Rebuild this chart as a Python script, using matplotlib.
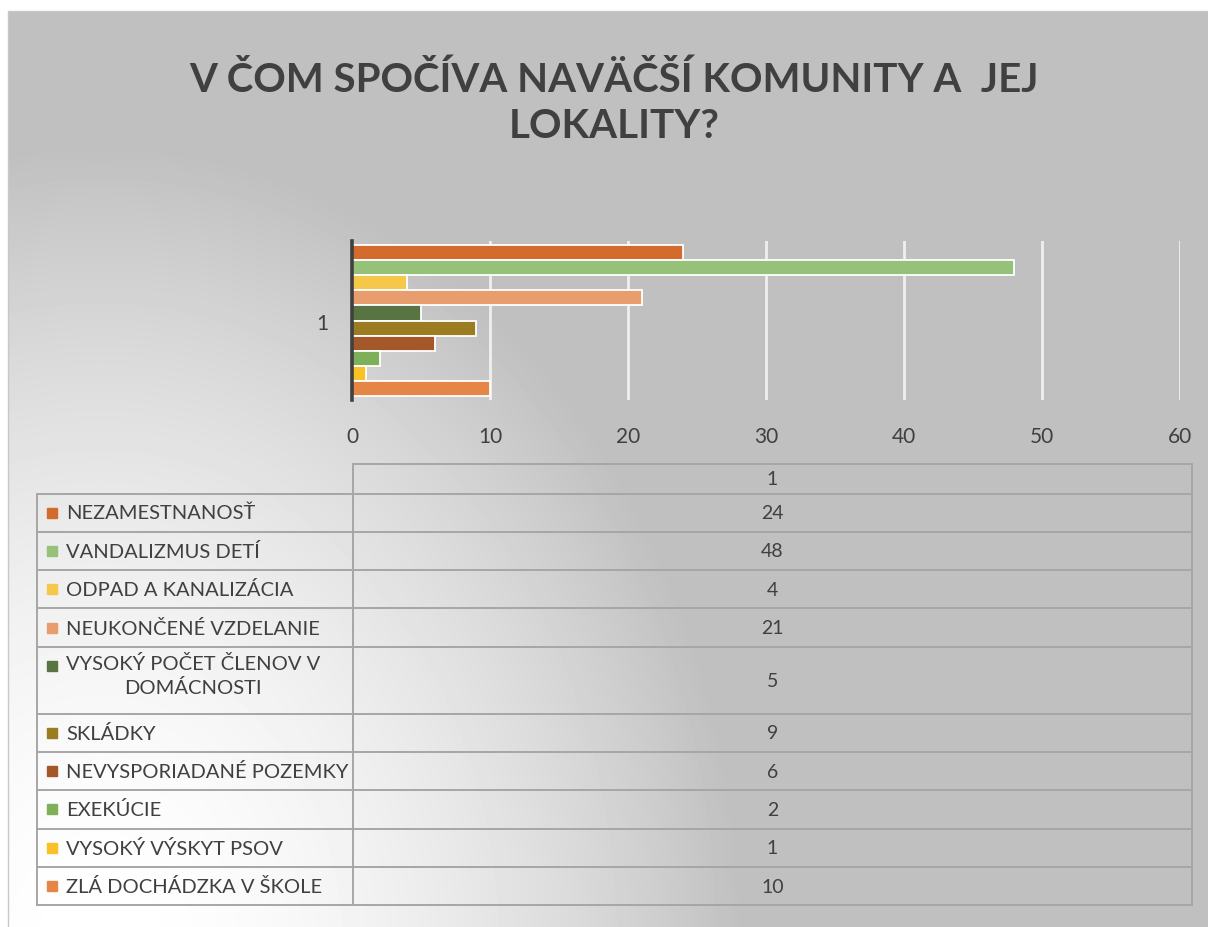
import numpy as np
import matplotlib.pyplot as plt

# data
categories = ['NEZAMESTNANOSŤ', 'VANDALIZMUS DETÍ', 'ODPAD A KANALIZÁCIA',
              'NEUKONČENÉ VZDELANIE', 'VYSOKÝ POČET ČLENOV V\nDOMÁCNOSTI',
              'SKLÁDKY', 'NEVYSPORIADANÉ POZEMKY', 'EXEKÚCIE',
              'VYSOKÝ VÝSKYT PSOV', 'ZLÁ DOCHÁDZKA V ŠKOLE']
values = [24, 48, 4, 21, 5, 9, 6, 2, 1, 10]
colors = ['#d26b2b', '#95c178', '#f5c84a', '#e89d6e', '#587443',
          '#9c7c20', '#a4582a', '#7eb05a', '#f8c125', '#e68646']
group_label = '1'
xticks = [0, 10, 20, 30, 40, 50, 60]
title = 'V ČOM SPOČÍVA NAVÄČŠÍ KOMUNITY A  JEJ\nLOKALITY?'

TXT = '#404040'
LINE = '#a6a6a6'
W, H = 1208, 928

plt.rcParams['font.family'] = ['Lato', 'DejaVu Sans']

fig = plt.figure(figsize=(W / 100, H / 100), dpi=100)
fig.patch.set_facecolor('white')

# background axes in pixel coordinates
bg = fig.add_axes([0, 0, 1, 1], zorder=0)
bg.axis('off')

yy, xx = np.mgrid[12:H, 8:W]
r = np.sqrt(((xx - 100) / 640.0) ** 2 + ((yy - 950) / 800.0) ** 2)
val = 0.753 + 0.247 * (1 - np.clip(r, 0, 1) ** 1.8)
bg.imshow(val, cmap='gray', vmin=0, vmax=1, extent=(8, W, H, 12),
          aspect='auto', interpolation='bilinear')
bg.plot([8, 8, W], [H, 12, 12], color='#c8c8c8', lw=1)
bg.set_xlim(0, W)
bg.set_ylim(H, 0)

bg.text(614, 103, title, ha='center', va='center', fontsize=29,
        fontweight='bold', color=TXT, linespacing=1.3)

# bar chart
ax = fig.add_axes([352 / W, (H - 401) / H, 828 / W, 159 / H], zorder=1)
ax.patch.set_alpha(0)
n = len(values)
pos = np.arange(n)
ax.barh(pos, values, height=1.0, color=colors, edgecolor='white', lw=1.3, zorder=3)
pad = 0.25
ax.set_ylim(n - 0.5 + pad, -0.5 - pad)
ax.set_xlim(0, 60)
ax.set_xticks(xticks)
ax.set_yticks([(n - 1) / 2])
ax.set_yticklabels([group_label])
ax.tick_params(length=0, labelsize=15, colors=TXT)
ax.tick_params(axis='x', pad=19)
ax.tick_params(axis='y', pad=17)
ax.grid(axis='x', color='white', lw=2, alpha=0.75, zorder=1)
for s in ['top', 'right', 'bottom']:
    ax.spines[s].set_visible(False)
ax.spines['left'].set_color('#404040')
ax.spines['left'].set_linewidth(2.6)
ax.spines['left'].set_zorder(4)

# data table
x0, xc, x1 = 37, 353, 1192
top = 465
head_h = 29.5
row_h = 38.3
extra = 28.7
bg.text((xc + x1) / 2, top + head_h / 2, group_label, ha='center', va='center',
        fontsize=14, color=TXT)
ys = [top + head_h]
for lab in categories:
    ys.append(ys[-1] + row_h + extra * lab.count('\n'))
bg.plot([xc, x1], [top, top], color=LINE, lw=1.4)
for y in ys:
    bg.plot([x0, x1], [y, y], color=LINE, lw=1.4)
bg.plot([x0, x0], [ys[0], ys[-1]], color=LINE, lw=1.4)
bg.plot([xc, xc], [top, ys[-1]], color=LINE, lw=1.4)
bg.plot([x1, x1], [top, ys[-1]], color=LINE, lw=1.4)

for i, (lab, v, c) in enumerate(zip(categories, values, colors)):
    ytop, ybot = ys[i], ys[i + 1]
    ymid = (ytop + ybot) / 2
    bg.add_patch(plt.Rectangle((47, ytop + row_h / 2 - 5), 10, 10, color=c))
    if '\n' in lab:
        bg.text(66, ytop + 7, lab, ha='left', va='top', fontsize=14.5,
                color=TXT, multialignment='center', linespacing=1.4)
    else:
        bg.text(66, ymid, lab, ha='left', va='center', fontsize=14.5, color=TXT)
    bg.text((xc + x1) / 2, ymid, str(v), ha='center', va='center',
            fontsize=14, color=TXT)

fig.savefig('out.png', dpi=100)
